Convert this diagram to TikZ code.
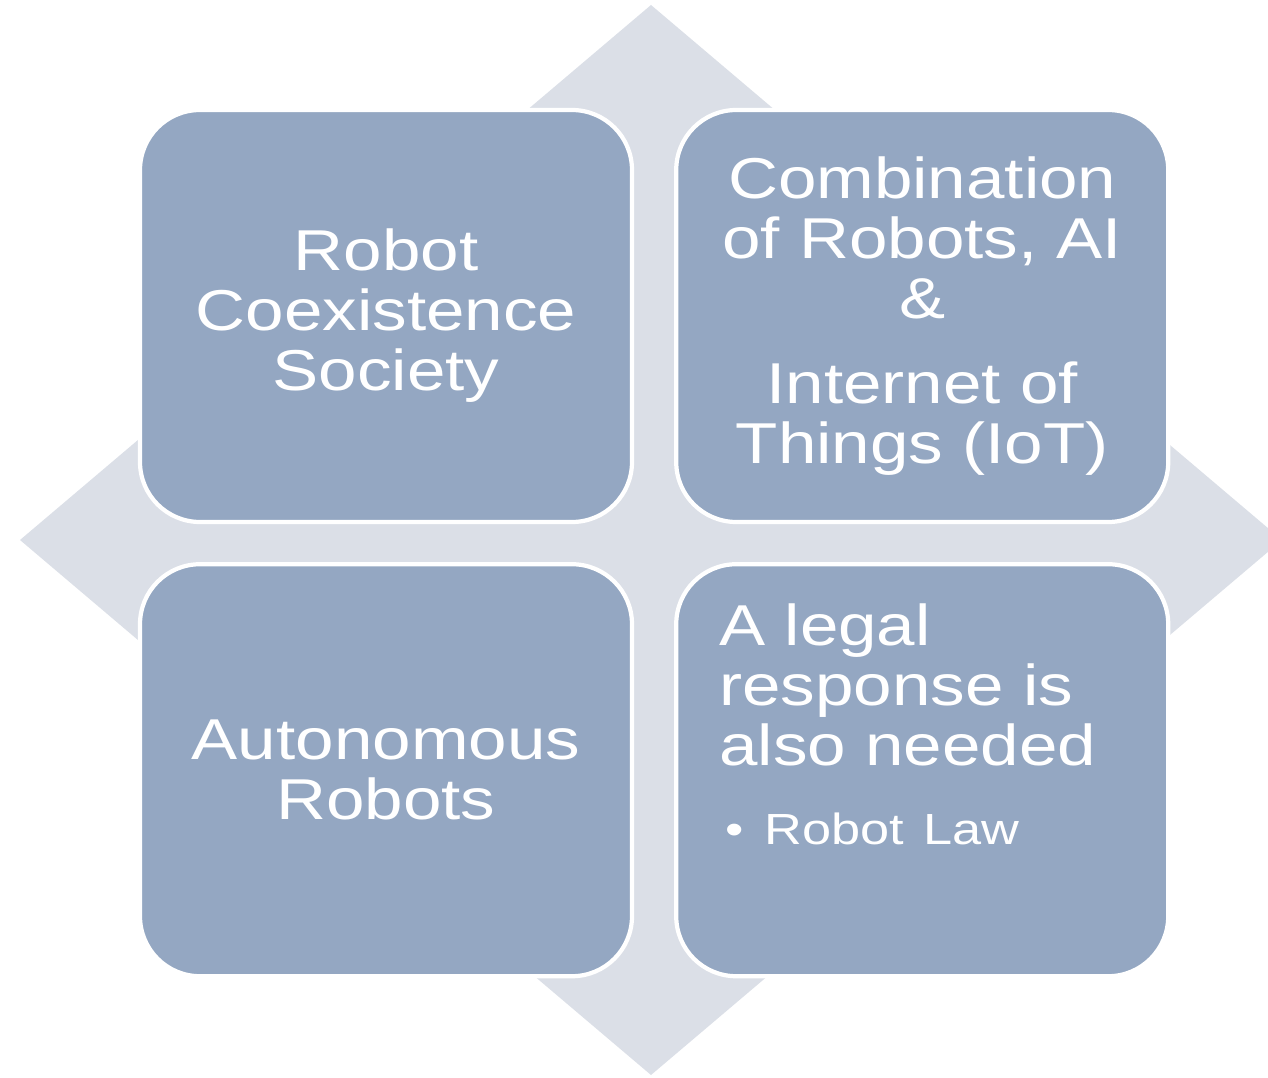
\documentclass[tikz,border=0pt]{standalone}
\usepackage{fontspec}
\setmainfont{Liberation Sans}[FakeStretch=1.2]
\usepackage{xcolor}
\usetikzlibrary{positioning}

\definecolor{quadblue}{RGB}{148,167,194}
\definecolor{diamondgray}{RGB}{219,223,231}

\begin{document}
\begin{tikzpicture}[
        quad/.style={rectangle, draw=white, line width=3pt, fill=quadblue, rounded corners=1.5cm, minimum width=12.3cm, minimum height=10.3cm, inner sep=0pt, text=white, align=center, font=\fontsize{41}{42.7}\selectfont},
        quadtext/.style={inner sep=0pt, text=white, align=left, text width=11cm, font=\fontsize{41}{42.7}\selectfont}
        ]
        % Page and background diamond
        \clip (0,0) rectangle (31.7,26.925);
        \fill[diamondgray] (16.275,26.8) -- (32.05,13.425) -- (16.275,0.05) -- (0.5,13.425) -- cycle;

        % Four rounded boxes
        \node[quad] (society) at (9.65,19.025) {Robot\\Coexistence\\Society};
        
        \node[quad, right=1cm of society] (combination) {Combination\\of Robots, AI\\\&\\[17.8pt]Internet of\\Things (IoT)};
        
        \node[quad, below=0.95cm of society] (autonomous) {Autonomous\\Robots};
        
        \node[quad, below=0.95cm of combination] (legal) {};
        
        \node[quadtext, below right=1.025cm and 1.125cm of legal.north west] (legaltext) {A legal\\response is\\also needed\\[13.5pt]{\fontsize{31}{36}\selectfont\makebox[1.125cm][l]{\hspace{0.15cm}\textbullet}Robot Law}};
        \end{tikzpicture}
\end{document}
